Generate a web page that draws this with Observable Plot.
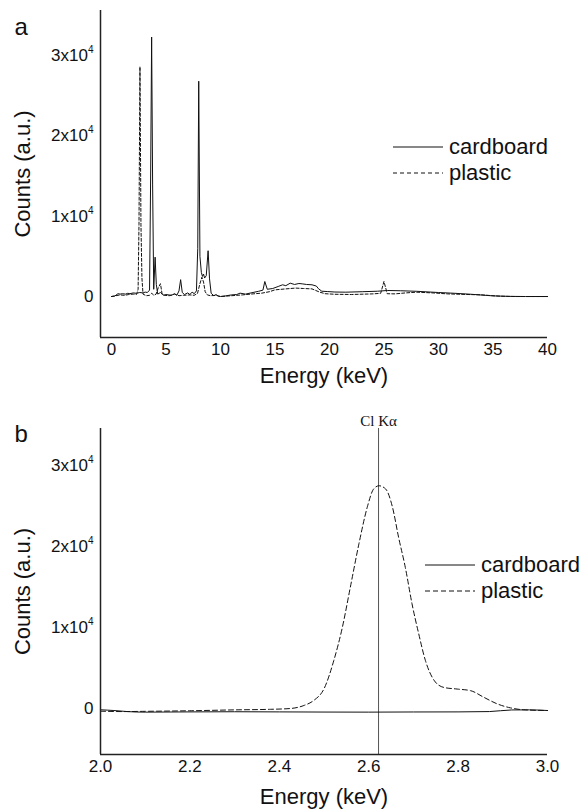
<!DOCTYPE html>
<html><head><meta charset="utf-8">
<script src="https://cdn.jsdelivr.net/npm/d3@7"></script>
<script src="https://cdn.jsdelivr.net/npm/@observablehq/plot@0.6"></script>
<style>
body{margin:0;background:#fff;font-family:"Liberation Sans",Arial,sans-serif;}
#wrap{position:relative;width:587px;height:809px;overflow:hidden;background:#fff}
.panel{position:absolute;left:0}
.legend{position:absolute;font-size:22px;color:#111}
.legend .row{position:absolute;left:0;display:flex;align-items:center;height:26px;white-space:nowrap}
.legend svg{margin-right:6px}
</style></head><body><div id="wrap"></div><script>
// ---- data (energy keV, counts) ----
const seriesNames = ["cardboard", "plastic"];
const cardboardA = [[0,0],[0.3,50],[0.6,350],[0.8,300],[1.0,350],[1.3,300],[1.5,400],[1.7,350],[2.0,450],[2.3,400],[2.6,500],[2.9,450],[3.1,550],[3.3,500],[3.5,800],[3.6,15000],[3.69,32300],[3.78,14000],[3.88,900],[4.01,4900],[4.12,1500],[4.25,300],[4.5,500],[4.8,150],[5.0,250],[5.5,150],[5.8,350],[6.0,150],[6.2,700],[6.35,2100],[6.5,500],[6.7,250],[7.0,450],[7.2,250],[7.4,550],[7.6,350],[7.8,700],[7.92,6000],[8.01,26800],[8.12,5000],[8.25,3000],[8.35,2500],[8.45,2800],[8.55,2300],[8.7,2600],[8.87,5700],[9.0,2200],[9.15,400],[9.4,100],[9.6,250],[9.8,50],[10.0,0],[10.5,80],[11.0,200],[11.5,250],[11.8,420],[12.3,300],[12.8,450],[13.5,650],[13.9,800],[14.07,1870],[14.3,900],[14.8,1000],[15.3,1250],[15.7,1460],[16.0,1350],[16.4,1660],[16.8,1500],[17.2,1620],[17.5,1580],[17.9,1500],[18.4,1460],[18.8,1300],[19.0,960],[19.3,660],[19.8,620],[20.5,560],[21.5,540],[23,600],[24.4,660],[25.3,750],[26.5,720],[28,650],[30,500],[31.5,400],[33,280],[34,180],[35,80],[36.5,20],[38,0],[40,0]];
const plasticA = [[0,0],[0.4,100],[0.8,200],[1.2,150],[1.6,250],[2.0,300],[2.3,250],[2.45,900],[2.53,9000],[2.62,28600],[2.71,9000],[2.8,2300],[2.9,300],[3.2,100],[3.5,150],[3.7,400],[3.9,150],[4.1,300],[4.3,1100],[4.5,1600],[4.65,300],[4.9,150],[5.3,100],[5.8,300],[6.2,100],[6.6,150],[7.2,200],[7.6,150],[7.9,400],[8.1,1500],[8.3,2400],[8.45,1800],[8.6,600],[8.8,200],[9.1,100],[9.6,150],[10,0],[11,100],[12,200],[13,330],[13.8,420],[14.5,600],[15,830],[16,950],[16.9,1050],[17.6,1000],[18.4,950],[19.1,550],[19.6,350],[20.5,280],[22,250],[24,330],[24.7,400],[25.0,1870],[25.3,350],[26,330],[27,450],[28,540],[29.5,450],[30.8,330],[32.5,260],[33.9,210],[35,100],[35.7,40],[37,0],[40,0]];
const cardboardB = [[2.0,-160],[2.03,-250],[2.06,-380],[2.1,-450],[2.2,-420],[2.3,-400],[2.4,-420],[2.5,-440],[2.6,-450],[2.7,-430],[2.8,-420],[2.87,-380],[2.92,-180],[2.96,-170],[3.0,-250]];
const plasticB = [[2.0,-330],[2.05,-380],[2.1,-350],[2.2,-280],[2.3,-170],[2.38,-100],[2.425,0],[2.455,370],[2.477,990],[2.5,2430],[2.522,5930],[2.541,10000],[2.559,15000],[2.578,20300],[2.597,24900],[2.611,27100],[2.623,27500],[2.638,27100],[2.653,24900],[2.667,21100],[2.682,17400],[2.697,12900],[2.712,9200],[2.727,5900],[2.746,3500],[2.768,2600],[2.798,2400],[2.828,2200],[2.857,1400],[2.887,580],[2.917,80],[2.947,-160],[3.0,-250]];
const clKaEnergy = [2.622];
const clKaLabel = "Cl K\u03b1";
const xTicksA = [0,5,10,15,20,25,30,35,40];
const xTicksB = [2.0,2.2,2.4,2.6,2.8,3.0];
const yTicks = [0,10000,20000,30000];
const panelLetters = ["a","b"];
const xDomainA = [-1, 40], yDomainA = [-5100, 35600];
const xDomainB = [2.0, 3.0], yDomainB = [-5680, 34570];

const FONT = '"Liberation Sans", Arial, Helvetica, sans-serif';
const INK = "#111";
const toRows = (pairs, s) => pairs.map(([E, C]) => ({E, C, s}));
const fmtY = d => d === 0 ? "0" : `${d/1e4}x10^4`;

function fixText(svg){
  svg.querySelectorAll('[aria-label="y-axis tick label"] text').forEach(t => {
    const s = t.textContent, i = s.indexOf("^");
    if (i < 0) return;
    t.textContent = s.slice(0, i);
    const sp = document.createElementNS("http://www.w3.org/2000/svg", "tspan");
    sp.setAttribute("font-size", "10px");
    sp.setAttribute("dy", "-8");
    sp.textContent = s.slice(i + 1);
    t.appendChild(sp);
  });
  svg.querySelectorAll('[aria-label="x-axis label"], [aria-label="y-axis label"]').forEach(g => {
    g.style.fontSize = "22px";
  });
}

function panel(opts){
  const {height, marginTop, marginBottom, xDomain, yDomain, xTicks, xFmt, cardboard, plastic, curve, dash, letter, letterDy, extra, xLabelOffset} = opts;
  const data = toRows(cardboard, seriesNames[0]).concat(toRows(plastic, seriesNames[1]));
  const svg = Plot.plot({
    width: 587, height,
    marginLeft: 100, marginRight: 40, marginTop, marginBottom,
    style: {fontFamily: FONT, fontSize: "17px", color: INK, background: "white", overflow: "visible"},
    x: {domain: xDomain},
    y: {domain: yDomain},
    marks: [
      Plot.axisX({ticks: xTicks, tickSize: 0, tickPadding: 5, tickFormat: xFmt, label: "Energy (keV)", labelAnchor: "center", labelArrow: false, labelOffset: xLabelOffset}),
      Plot.axisY({ticks: yTicks, tickSize: 0, tickPadding: 7, tickFormat: fmtY, label: "Counts (a.u.)", labelAnchor: "center", labelArrow: false, labelOffset: 86}),
      ...(extra || []),
      Plot.line(data.filter(d => d.s === seriesNames[1]), {x: "E", y: "C", stroke: INK, strokeWidth: 1, strokeDasharray: dash, curve}),
      Plot.line(data.filter(d => d.s === seriesNames[0]), {x: "E", y: "C", stroke: INK, strokeWidth: 1, curve}),
      Plot.ruleX([xDomain[0]], {stroke: "#222", strokeWidth: 1.5}),
      Plot.ruleY([yDomain[0]], {stroke: "#222", strokeWidth: 1.5}),
      Plot.text([letter], {text: d => d, frameAnchor: "top-left", textAnchor: "start", dx: -86, dy: letterDy, fontSize: 24, fill: INK})
    ]
  });
  fixText(svg);
  return svg;
}

function legend(left, top, dash){
  const div = document.createElement("div");
  div.className = "legend";
  div.style.left = left + "px";
  div.style.top = top + "px";
  seriesNames.forEach((name, i) => {
    const row = document.createElement("div");
    row.className = "row";
    row.style.top = (i * 26) + "px";
    const d = i === 0 ? "" : `stroke-dasharray="${dash}"`;
    row.innerHTML = `<svg width="50" height="4"><line x1="0" x2="50" y1="2" y2="2" stroke="${INK}" stroke-width="1" ${d}/></svg><span>${name}</span>`;
    div.appendChild(row);
  });
  return div;
}

const wrap = document.getElementById("wrap");

const svgA = panel({
  height: 400, marginTop: 10, marginBottom: 63,
  xDomain: xDomainA, yDomain: yDomainA, xTicks: xTicksA, xFmt: d => String(d),
  cardboard: cardboardA, plastic: plasticA, curve: "linear", dash: "3,2",
  letter: panelLetters[0], letterDy: 7, xLabelOffset: 45
});
const pa = document.createElement("div"); pa.className = "panel"; pa.style.top = "0px"; pa.appendChild(svgA); wrap.appendChild(pa);

const svgB = panel({
  height: 409, marginTop: 28, marginBottom: 55,
  xDomain: xDomainB, yDomain: yDomainB, xTicks: xTicksB, xFmt: d3.format(".1f"),
  cardboard: cardboardB, plastic: plasticB, curve: "monotone-x", dash: "5,3",
  letter: panelLetters[1], letterDy: -4, xLabelOffset: 49,
  extra: [
    Plot.ruleX(clKaEnergy, {stroke: "#555", strokeWidth: 1}),
    Plot.text(clKaEnergy, {x: d => d, frameAnchor: "top", dy: -13, text: () => clKaLabel, fontFamily: '"Liberation Serif", "Times New Roman", serif', fontSize: 15, fill: INK})
  ]
});
const pb = document.createElement("div"); pb.className = "panel"; pb.style.top = "400px"; pb.appendChild(svgB); wrap.appendChild(pb);

wrap.appendChild(legend(393, 134, "4,3"));
wrap.appendChild(legend(425, 552, "5,3"));
</script></body></html>
